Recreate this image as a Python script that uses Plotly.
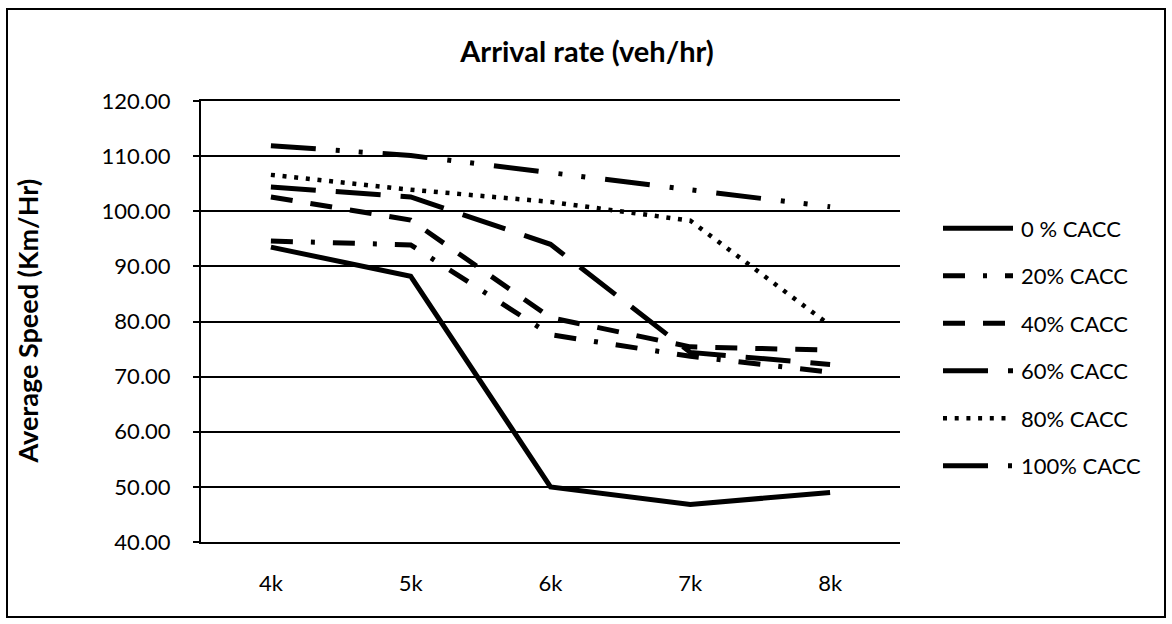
import plotly.graph_objects as go

# ---- data ----
categories = ["4k", "5k", "6k", "7k", "8k"]
series_names = ["0 % CACC", "20% CACC", "40% CACC", "60% CACC", "80% CACC", "100% CACC"]
cacc_0 = [93.5, 88.2, 50.0, 46.8, 49.0]
cacc_20 = [94.6, 93.9, 77.6, 73.7, 70.8]
cacc_40 = [102.6, 98.4, 80.7, 75.4, 74.8]
cacc_60 = [104.4, 102.6, 94.0, 74.4, 72.2]
cacc_80 = [106.6, 103.9, 101.7, 98.3, 79.3]
cacc_100 = [111.9, 110.1, 107.0, 104.0, 100.8]
y_tick_values = [40, 50, 60, 70, 80, 90, 100, 110, 120]
y_tick_labels = ["40.00", "50.00", "60.00", "70.00", "80.00", "90.00", "100.00", "110.00", "120.00"]

series_values = [cacc_0, cacc_20, cacc_40, cacc_60, cacc_80, cacc_100]

# ---- styles ----
styles = [
    dict(width=5, dash="solid"),
    dict(width=5, dash="22px,18px,4px,18px"),
    dict(width=5, dash="22px,18px"),
    dict(width=5, dash="45px,20px"),
    dict(width=4.5, dash="4px,7.7px"),
    dict(width=5, dash="45px,20px,4px,19px,4px,20px"),
]

W, H = 1172, 624
L, R, T, B = 201, 272, 101, 82
PW, PH = W - L - R, H - T - B
FONT = "Lato"


def px2x(px):
    return (px - L) / PW


def py2y(py):
    return (H - B - py) / PH


fig = go.Figure()
for name, vals, st in zip(series_names, series_values, styles):
    fig.add_trace(go.Scatter(
        x=categories, y=vals, mode="lines", name=name,
        line=dict(color="black", width=st["width"], dash=st["dash"]),
        showlegend=False,
    ))

shapes = []
annotations = []
# manual legend
leg_y0 = 228.3
leg_dy = 47.5
for i, (name, st) in enumerate(zip(series_names, styles)):
    yy = py2y(leg_y0 + i * leg_dy)
    shapes.append(dict(type="line", xref="paper", yref="paper",
                       x0=px2x(943), x1=px2x(1013), y0=yy, y1=yy,
                       line=dict(color="black", width=st["width"], dash=st["dash"])))
    annotations.append(dict(text=name, xref="paper", yref="paper",
                            x=px2x(1019), y=yy, xanchor="left", yanchor="middle",
                            showarrow=False, font=dict(family=FONT, size=22, color="black")))

# outer frame
shapes.append(dict(type="rect", xref="paper", yref="paper",
                   x0=px2x(7), x1=px2x(1165), y0=py2y(617), y1=py2y(9),
                   line=dict(color="black", width=2), fillcolor="rgba(0,0,0,0)"))

# y-axis title
annotations.append(dict(text="<b>Average Speed (Km/Hr)</b>", xref="paper", yref="paper",
                        x=px2x(27), y=0.5, xanchor="center", yanchor="middle",
                        textangle=-90, showarrow=False,
                        font=dict(family=FONT, size=27, color="black")))

fig.update_layout(
    width=W, height=H,
    margin=dict(l=L, r=R, t=T, b=B),
    paper_bgcolor="white", plot_bgcolor="white",
    title=dict(text="<b>Arrival rate (veh/hr)</b>", x=px2x(587), xref="paper",
               y=1 - 52 / H, yref="container", xanchor="center", yanchor="middle",
               font=dict(family=FONT, size=29, color="black")),
    shapes=shapes, annotations=annotations,
    showlegend=False,
)
fig.update_xaxes(type="category", range=[-0.5, 4.5], showgrid=False,
                 showline=True, linecolor="black", linewidth=2, mirror=True,
                 ticks="", tickfont=dict(family=FONT, size=22, color="black"),
                 ticklabelstandoff=21, zeroline=False)
fig.update_yaxes(range=[40, 120], tickvals=y_tick_values, ticktext=y_tick_labels,
                 showgrid=True, gridcolor="black", gridwidth=2,
                 showline=True, linecolor="black", linewidth=2,
                 ticks="outside", ticklen=6, tickcolor="black", tickwidth=1.5,
                 tickfont=dict(family=FONT, size=22, color="black"),
                 ticklabelstandoff=18, zeroline=False)

fig.write_html("out.html", config={"displayModeBar": False},
               post_script="document.body.style.margin='0';document.body.style.overflow='hidden';")
